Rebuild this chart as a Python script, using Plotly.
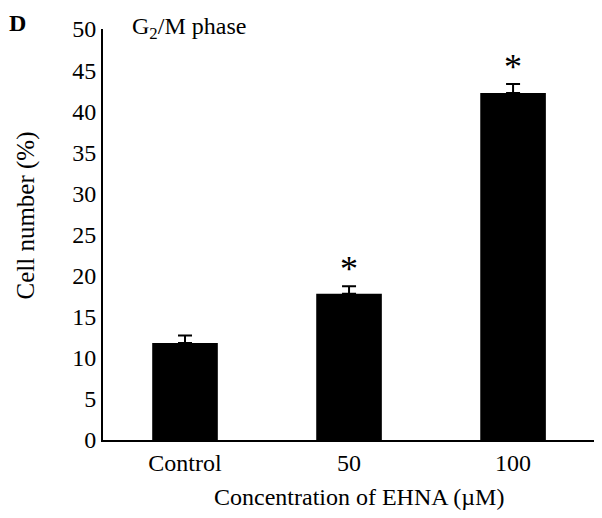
import plotly.graph_objects as go

categories = ["Control", "50", "100"]
cell_number = [11.8, 17.8, 42.2]
error_up = [0.9, 0.9, 1.1]
significant = [False, True, True]

font_family = "Liberation Serif"

figure = go.Figure()

figure.add_trace(
    go.Bar(
        x=categories,
        y=cell_number,
        width=0.4,
        marker=dict(color="black", line=dict(width=0)),
        error_y=dict(
            type="data",
            symmetric=False,
            array=error_up,
            arrayminus=[0] * len(error_up),
            color="black",
            thickness=2,
            width=7,
        ),
        showlegend=False,
    )
)

# asterisks above significant bars (x by category index)
for i, (val, err, sig) in enumerate(zip(cell_number, error_up, significant)):
    if sig:
        figure.add_annotation(
            x=i,
            y=val + err,
            text="*",
            showarrow=False,
            yanchor="bottom",
            yshift=-5,
            font=dict(family=font_family, size=36, color="black"),
        )

figure.add_annotation(
    x=0, y=1, xref="paper", yref="paper",
    xshift=27, yshift=1,
    text="G<sub>2</sub>/M phase",
    showarrow=False, xanchor="left", yanchor="middle",
    font=dict(family=font_family, size=24, color="black"),
)
figure.add_annotation(
    x=0, y=1, xref="paper", yref="paper",
    xshift=-86, yshift=21,
    text="<b>D</b>",
    showarrow=False, xanchor="center", yanchor="top",
    font=dict(family=font_family, size=24, color="black"),
)

# axis titles as annotations so they can sit off-centre like the original
figure.add_annotation(
    x=0, y=0.5, xref="paper", yref="paper",
    xshift=-78, yshift=19,
    text="Cell number (%)", textangle=-90,
    showarrow=False, xanchor="center", yanchor="middle",
    font=dict(family=font_family, size=25, color="black"),
)
figure.add_annotation(
    x=0.5, y=0, xref="paper", yref="paper",
    xshift=7, yshift=-57,
    text="Concentration of EHNA (µM)",
    showarrow=False, xanchor="center", yanchor="middle",
    font=dict(family=font_family, size=24, color="black"),
)

# page body adds 8px margin, so the figure is slightly smaller than the window
figure.update_layout(
    width=594,
    height=510,
    margin=dict(l=95, r=2, t=21, b=78),
    paper_bgcolor="white",
    plot_bgcolor="white",
    font=dict(family=font_family, size=24, color="black"),
    xaxis=dict(
        range=[-0.5, 2.53],
        showline=True,
        linecolor="black",
        linewidth=2,
        ticks="",
        showgrid=False,
        tickfont=dict(family=font_family, size=24),
    ),
    yaxis=dict(
        range=[0, 50],
        dtick=5,
        showline=True,
        linecolor="black",
        linewidth=2,
        ticks="",
        showgrid=False,
        zeroline=False,
        tickfont=dict(family=font_family, size=24),
    ),
)

figure.write_html("out.html")
